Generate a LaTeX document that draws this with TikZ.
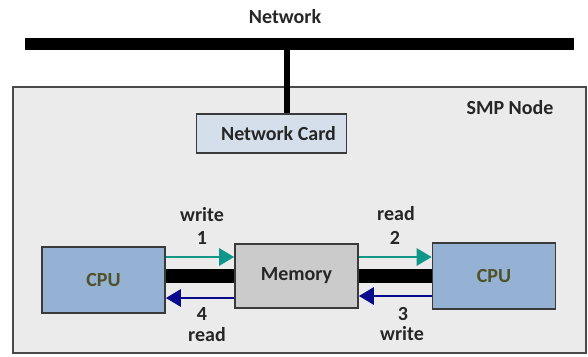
\documentclass[tikz,border=0pt]{standalone}
\usepackage{fontspec}
\setmainfont{Carlito}
\usetikzlibrary{arrows.meta}
\definecolor{smpfill}{HTML}{EBEBEB}
\definecolor{smpdraw}{HTML}{4A4A4A}
\definecolor{cardfill}{HTML}{D5DFEB}
\definecolor{cpufill}{HTML}{95B1D3}
\definecolor{cputext}{HTML}{4F5228}
\definecolor{memfill}{HTML}{CBCBCB}
\definecolor{tealc}{HTML}{11968A}
\definecolor{navyc}{HTML}{0A0A8C}
\definecolor{boxdraw}{HTML}{3A3A3A}
\tikzset{
  lbl/.style={font=\bfseries\fontsize{20}{23}\selectfont, text=black!85, inner sep=0pt},
  box/.style={draw=boxdraw, line width=1.6pt, inner sep=0pt, font=\bfseries\fontsize{20}{23}\selectfont},
  cpubox/.style={box, fill=cpufill, text=cputext, minimum width=123pt, minimum height=66pt},
  membox/.style={box, fill=memfill, text=black!85, minimum width=123pt, minimum height=64pt},
  tealarr/.style={draw=tealc, line width=2.8pt, -{Triangle[length=15pt,width=17pt]}},
  navyarr/.style={draw=navyc, line width=2.8pt, -{Triangle[length=15pt,width=17pt]}},
  busline/.style={line width=14pt, black},
}
\begin{document}
\begin{tikzpicture}[x=1pt,y=-1pt]
\useasboundingbox (0,0) rectangle (588,356);
% network bar
\node[fill=black, minimum width=549pt, minimum height=12pt, inner sep=0pt] (bar) at (299.5,44) {};
\node[lbl] (nettxt) at (285,17) {Network};
% SMP node
\node[draw=smpdraw, fill=smpfill, line width=1.8pt, minimum width=573pt, minimum height=266pt, inner sep=0pt] (smp) at (299.5,220) {};
\node[lbl, anchor=center] (smptxt) at (510,108) {SMP Node};
% network card
\node[box, fill=cardfill, text=black!85, minimum width=150pt, minimum height=39pt] (card) at (271.5,133.5) {\hspace*{14pt}Network Card};
\coordinate (link) at (287,0);
\draw[line width=6pt] (bar.south -| link) -- (card.north -| link);
% CPUs and memory
\node[cpubox] (cpuL) at (103.5,280) {CPU};
\node[membox] (mem) at (296.5,276) {Memory};
\node[cpubox] (cpuR) at (494,276) {CPU};
% buses
\draw[busline] (cpuL.east |- 0,276) -- (mem.west |- 0,276);
\draw[busline] (mem.east |- 0,276) -- (cpuR.west |- 0,276);
% arrows
\draw[tealarr] (cpuL.east |- 0,257) -- (mem.west |- 0,257);
\draw[navyarr] (mem.west |- 0,298) -- (cpuL.east |- 0,298);
\draw[tealarr] (mem.east |- 0,257) -- (cpuR.west |- 0,257);
\draw[navyarr] (cpuR.west |- 0,296) -- (mem.east |- 0,296);
% labels
\node[lbl] (w1) at (202,215) {write};
\node[lbl] (n1) at (202,238) {1};
\node[lbl] (n4) at (202,314) {4};
\node[lbl] (r4) at (207,335) {read};
\node[lbl] (r2) at (396,214) {read};
\node[lbl] (n2) at (395,238) {2};
\node[lbl] (n3) at (403,314) {3};
\node[lbl] (w3) at (402,334) {write};
\end{tikzpicture}
\end{document}
